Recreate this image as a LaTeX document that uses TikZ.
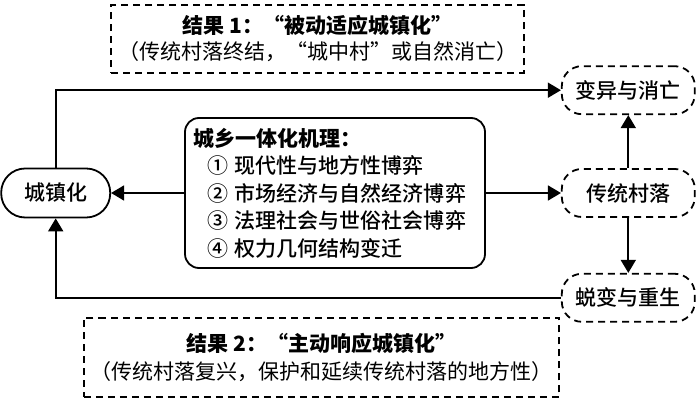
\documentclass[tikz,border=0pt]{standalone}
\usepackage{fontspec}
\setmainfont{Noto Sans CJK SC}
\newfontfamily\heimedium{Noto Sans CJK SC Medium}
\usetikzlibrary{positioning, arrows.meta}

\begin{document}
\begin{tikzpicture}[
    x=0.5pt, y=-0.5pt,
    line width=0.9pt,
    mechanism/.style={rectangle, draw, rounded corners=7pt, text width=142pt, inner xsep=4pt,
        minimum height=75pt, align=left, font=\fontsize{10.5pt}{13.75pt}\selectfont},
    town/.style={rectangle, draw, rounded corners=12pt, minimum width=54.5pt, minimum height=24.5pt,
        font=\fontsize{10.5pt}{13pt}\heimedium},
    stage/.style={rectangle, draw, dash pattern=on 3.5pt off 2.5pt, rounded corners=10pt,
        minimum width=66.5pt, minimum height=24pt, font=\fontsize{10.5pt}{13pt}\heimedium},
    result/.style={rectangle, draw, dash pattern=on 3.5pt off 2.5pt, align=center},
    flow/.style={-{Triangle[length=6.5pt, width=7.5pt]}},
    every node/.style={font=\fontsize{10.5pt}{13pt}\selectfont}
]
\useasboundingbox (0,0) rectangle (700,405);

% Nodes
\node[mechanism] (mech) at (335,193) {\textbf{城乡一体化机理：}\\
    {\heimedium\hspace*{7pt}① 现代性与地方性博弈\\
    \hspace*{7pt}② 市场经济与自然经济博弈\\
    \hspace*{7pt}③ 法理社会与世俗社会博弈\\
    \hspace*{7pt}④ 权力几何结构变迁}};
\node[town, left=36.5pt of mech] (town) {城镇化};
\node[stage, right=37.5pt of mech] (trad) {传统村落};
\node[stage, above=26.5pt of trad] (decline) {变异与消亡};
\node[stage, below=27.5pt of trad] (revival) {蜕变与重生};

% Results
\node[result, minimum width=199.5pt, minimum height=34pt] (res1) at (317.5,39)
    {\textbf{结果 1：“被动适应城镇化”}\\（传统村落终结，“城中村”或自然消亡）};
\node[result, minimum width=233.5pt, minimum height=39.5pt,
    font=\fontsize{10.5pt}{14pt}\selectfont] (res2) at (321.5,357.5)
    {\textbf{结果 2：“主动响应城镇化”}\\（传统村落复兴，保护和延续传统村落的地方性）};

% Edges
\draw[flow] (mech) -- (town);
\draw[flow] (mech) -- (trad);
\draw[flow] (trad) -- (decline);
\draw[flow] (trad) -- (revival);
\draw[flow] (town.north) |- (decline.west);
\draw[flow] (revival.west) -| (town.south);

\end{tikzpicture}
\end{document}
